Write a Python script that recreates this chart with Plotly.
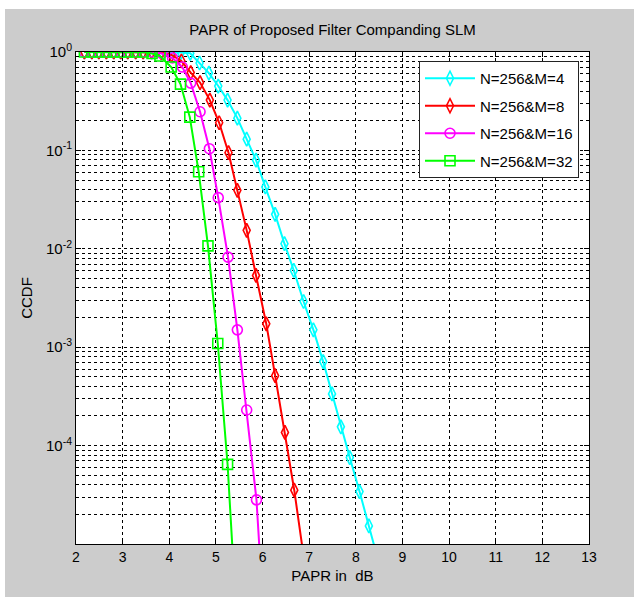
import plotly.graph_objects as go

# ---- data ----
series_names = ["N=256&M=4", "N=256&M=8", "N=256&M=16", "N=256&M=32"]
series_colors = ["#00ffff", "#ff0000", "#ff00ff", "#00ff00"]
series_symbols = ["diamond-tall-open", "diamond-tall-open", "circle-open", "square-open"]

top_x = [2.18, 2.34, 2.49, 2.65, 2.81, 2.96, 3.11, 3.28, 3.44]
top_y = [1, 1, 1, 1, 1, 1, 1, 1, 1]

m4_x = top_x + [3.63, 3.83, 4.05, 4.25, 4.45, 4.65, 4.85, 5.05, 5.25, 5.46, 5.66, 5.86,
                6.06, 6.27, 6.47, 6.67, 6.88, 7.09, 7.30, 7.49, 7.68, 7.87, 8.08, 8.28, 8.48]
m4_y = top_y + [1.0, 1.0, 1.0, 0.99, 0.970, 0.773, 0.611, 0.451, 0.3245, 0.2128, 0.130, 0.0795,
                0.0425, 0.0224, 0.01127, 0.006026, 0.002913, 0.001501, 7.14e-4, 3.35e-4,
                1.55e-4, 7.56e-5, 3.41e-5, 1.525e-5, 6.8e-6]

m8_x = top_x + [3.62, 3.83, 4.05, 4.26, 4.46, 4.66, 4.87, 5.07, 5.27, 5.46, 5.66, 5.86,
                6.08, 6.27, 6.48, 6.68, 6.89]
m8_y = top_y + [1.0, 0.988, 0.932, 0.810, 0.618, 0.489, 0.3245, 0.191, 0.0947, 0.0393,
                0.0154, 0.00536, 0.001727, 5.14e-4, 1.36e-4, 3.52e-5, 7.0e-6]

m16_x = top_x + [3.63, 3.84, 4.07, 4.28, 4.46, 4.66, 4.86, 5.05, 5.26, 5.46, 5.66, 5.87, 6.08]
m16_y = top_y + [1.0, 0.965, 0.869, 0.703, 0.483, 0.247, 0.104, 0.0331, 0.00823, 0.00150,
                 2.30e-4, 2.81e-5, 6.5e-7]

m32_x = top_x + [3.63, 3.80, 4.04, 4.24, 4.44, 4.63, 4.83, 5.04, 5.25, 5.45]
m32_y = top_y + [0.965, 0.911, 0.703, 0.472, 0.218, 0.0607, 0.0107, 0.00109, 6.45e-5, 1.5e-6]

series_x = [m4_x, m8_x, m16_x, m32_x]
series_y = [m4_y, m8_y, m16_y, m32_y]

x_ticks = [2, 3, 4, 5, 6, 7, 8, 9, 10, 11, 12, 13]
y_tickvals = [1, 0.1, 0.01, 0.001, 0.0001]
y_ticktext = ["10<sup>0</sup>", "10<sup>-1</sup>", "10<sup>-2</sup>", "10<sup>-3</sup>", "10<sup>-4</sup>"]

title_text = "PAPR of Proposed Filter Companding SLM"
x_title = "PAPR in\u00a0 dB"
y_title = "CCDF"

FONT = "Liberation Sans, Arial, sans-serif"
DASH = "3px,3px"

fig = go.Figure()
for i, (name, color, sym, xs, ys) in enumerate(zip(series_names, series_colors, series_symbols,
                                                   series_x, series_y)):
    fig.add_trace(go.Scatter(
        x=xs, y=ys, name=name, mode="lines+markers", legendgroup="g%d" % i,
        line=dict(color=color, width=2),
        marker=dict(symbol=sym, size=10, color=color, line=dict(color=color, width=1.6)),
        cliponaxis=True,
    ))

W, H = 634, 597
L, R, T, B = 76, 45, 52, 53
pw, ph = W - L - R, H - T - B

fig.update_layout(
    width=W, height=H,
    margin=dict(l=L, r=R, t=T, b=B, pad=0),
    paper_bgcolor="white",
    plot_bgcolor="white",
    font=dict(family=FONT, size=14, color="black"),
    title=dict(text=title_text, x=0.5, xref="paper", xanchor="center",
               y=1 - 30 / H, yref="container", yanchor="middle",
               font=dict(family=FONT, size=15, color="black")),
    showlegend=True,
    legend=dict(x=(419 - L) / pw, y=1 - (61 - T) / ph, xanchor="left", yanchor="top",
                bgcolor="white", bordercolor="#222222", borderwidth=1,
                font=dict(family=FONT, size=15, color="black"),
                traceorder="grouped", tracegroupgap=5, itemwidth=50),
    shapes=[
        dict(type="rect", xref="paper", yref="paper",
             x0=(5 - L) / pw, x1=1.3, y0=-0.3, y1=(H - B - 9) / ph,
             fillcolor="#cccccc", line=dict(width=0), layer="below"),
        dict(type="rect", xref="paper", yref="paper", x0=0, x1=1, y0=0, y1=1,
             fillcolor="white", line=dict(width=0), layer="below"),
    ],
)

fig.update_xaxes(
    range=[2, 13], tickvals=x_ticks, ticktext=[str(v) for v in x_ticks],
    showgrid=True, gridcolor="black", griddash=DASH, gridwidth=1,
    showline=True, linecolor="black", linewidth=1, mirror="ticks",
    ticks="inside", ticklen=5, tickcolor="black",
    tickfont=dict(family=FONT, size=14, color="black"),
    zeroline=False,
    title=dict(text=x_title, standoff=6, font=dict(family=FONT, size=15, color="black")),
)
fig.update_yaxes(
    type="log", range=[-5, 0], tickvals=y_tickvals, ticktext=y_ticktext,
    showgrid=True, gridcolor="black", griddash=DASH, gridwidth=1,
    showline=True, linecolor="black", linewidth=1, mirror="ticks",
    ticks="inside", ticklen=5, tickcolor="black",
    tickfont=dict(family=FONT, size=15, color="black"),
    minor=dict(dtick="D1", showgrid=True, gridcolor="black", griddash=DASH, gridwidth=1,
               ticks="inside", ticklen=3, tickcolor="black"),
    zeroline=False,
    title=dict(text=y_title, standoff=9, font=dict(family=FONT, size=15, color="black")),
)

fig.write_html("out.html")
